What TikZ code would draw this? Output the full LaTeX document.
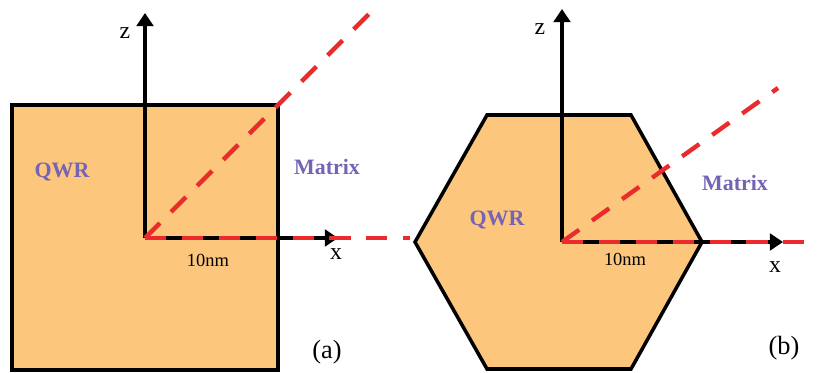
\documentclass[tikz,border=0pt]{standalone}
\usepackage{fontspec}
\setmainfont{Liberation Serif}
\usepackage{xcolor}
\usetikzlibrary{arrows.meta}
\definecolor{wirefill}{HTML}{FCC67C}
\definecolor{cutred}{HTML}{EC2A2C}
\definecolor{matpurple}{HTML}{7563B3}

\begin{document}
\begin{tikzpicture}[x=0.02cm, y=0.02cm,
    wire/.style={draw=black, line width=2pt, fill=wirefill, line join=miter},
    axis/.style={draw=black, line width=2pt, -{Triangle[length=7.5pt, width=9.5pt]}},
    cut/.style={draw=cutred, line width=2.5pt, dash pattern=on 12pt off 9pt},
    region/.style={inner sep=0, text=matpurple, font=\fontsize{12.5}{15}\selectfont\bfseries},
    axlabel/.style={inner sep=0, font=\fontsize{13.5}{16}\selectfont},
    size/.style={inner sep=0, font=\fontsize{10.5}{13}\selectfont},
    panel/.style={inner sep=0, font=\fontsize{15}{18}\selectfont}]
    \useasboundingbox (0,0) rectangle (820,372);

    % (a) square wire
    \draw[wire] (12,2) rectangle (278,267);
    \coordinate (oa) at (145,134);
    \coordinate (za) at (145,359);
    \coordinate (xa) at (338,134);
    \coordinate (da) at (372,361);
    \coordinate (ha) at (410,134);
    \draw[axis] (oa) -- (za);
    \draw[axis] (oa) -- (xa);
    \draw[cut] (oa) -- (da);
    \draw[cut] (oa) -- (ha);
    \node[axlabel] (zlaba) at (125,339) {z};
    \node[axlabel] (xlaba) at (336,118) {x};
    \node[region] (qwra) at (62,200) {QWR};
    \node[region] (mata) at (327,205) {Matrix};
    \node[size] (lena) at (208,112) {10nm};
    \node[panel] (pa) at (327,20) {(a)};

    % (b) hexagonal wire
    \draw[wire] (487,257) -- (631,257) -- (702,130) -- (631,3) -- (487,3) -- (415,130) -- cycle;
    \coordinate (ob) at (562,130);
    \coordinate (zb) at (562,363);
    \coordinate (xb) at (783,130);
    \coordinate (db) at (778,284);
    \coordinate (hb) at (808,130);
    \draw[axis] (ob) -- (zb);
    \draw[axis] (ob) -- (xb);
    \draw[cut] (ob) -- (db);
    \draw[cut] (ob) -- (hb);
    \node[axlabel] (zlabb) at (540,343) {z};
    \node[axlabel] (xlabb) at (775,105) {x};
    \node[region] (qwrb) at (497,152) {QWR};
    \node[region] (matb) at (735,189) {Matrix};
    \node[size] (lenb) at (625,113) {10nm};
    \node[panel] (pb) at (784,24) {(b)};
\end{tikzpicture}
\end{document}
